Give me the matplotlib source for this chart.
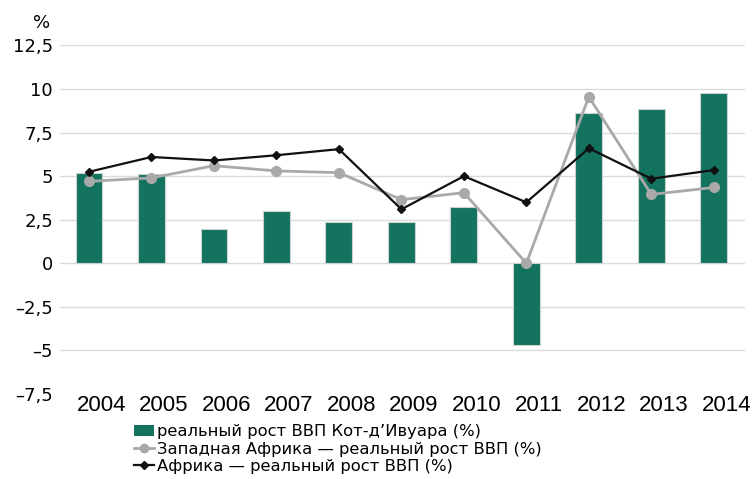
import numpy as np
import matplotlib.pyplot as plt
import matplotlib.transforms as mtransforms
from matplotlib.patches import Patch
from matplotlib.lines import Line2D

plt.rcParams['font.family'] = ['Liberation Sans', 'DejaVu Sans']

years = ['2004', '2005', '2006', '2007', '2008', '2009', '2010', '2011', '2012', '2013', '2014']
civ_growth = [5.2, 5.1, 1.95, 3.0, 2.35, 2.35, 3.25, -4.7, 8.6, 8.85, 9.75]
west_africa = [4.7, 4.9, 5.6, 5.3, 5.2, 3.65, 4.05, 0.0, 9.55, 3.95, 4.35]
africa = [5.25, 6.1, 5.9, 6.2, 6.55, 3.1, 5.0, 3.5, 6.6, 4.85, 5.35]
yticks = [-7.5, -5, -2.5, 0, 2.5, 5, 7.5, 10, 12.5]
ytick_labels = ['–7,5', '–5', '–2,5', '0', '2,5', '5', '7,5', '10', '12,5']
legend_labels = ['реальный рост ВВП Кот-д\u2019Ивуара (%)',
                 'Западная Африка — реальный рост ВВП (%)',
                 'Африка — реальный рост ВВП (%)']

green = '#13735f'
gray = '#a9a9a9'

fig = plt.figure(figsize=(7.55, 4.79), dpi=100)
ax = fig.add_axes([0.0795, 0.1775, 0.9073, 0.7276])

x = np.arange(len(years))

# gridlines (none at the bottom level)
for yv in yticks[1:]:
    ax.axhline(yv, color='#d8dddb', linewidth=1.0, zorder=0)

ax.bar(x, civ_growth, width=0.43, color=green, edgecolor='#c9d3cf', linewidth=0.8, zorder=2)
ax.plot(x, west_africa, color=gray, linewidth=2.0, marker='o', markersize=7, zorder=3)
ax.plot(x, africa, color='#111111', linewidth=1.6, marker='D', markersize=4.5, zorder=4)

ax.set_xlim(-0.464, 10.5)
ax.set_ylim(-7.5, 12.5)
ax.set_xticks(x)
ax.set_xticklabels(years, fontsize=16)
ax.set_yticks(yticks)
ax.set_yticklabels(ytick_labels, fontsize=13, family='DejaVu Sans')
ax.tick_params(axis='both', length=0)
ax.tick_params(axis='x', pad=1)
ax.tick_params(axis='y', pad=5)
for sp in ax.spines.values():
    sp.set_visible(False)

# year labels sit a little to the right of the bars
shift = mtransforms.ScaledTranslation(9 / 72, 0, fig.dpi_scale_trans)
for lbl in ax.get_xticklabels():
    lbl.set_transform(lbl.get_transform() + shift)

ax.text(-0.0146, 1.065, '%', transform=ax.transAxes, ha='right', va='center',
        fontsize=13, family='DejaVu Sans')

handles = [Patch(facecolor=green, edgecolor='none'),
           Line2D([0], [0], color=gray, linewidth=2, marker='o', markersize=6),
           Line2D([0], [0], color='#111111', linewidth=1.6, marker='D', markersize=4.5)]
fig.legend(handles, legend_labels, loc='upper left', bbox_to_anchor=(0.178, 0.114),
           frameon=False, prop={'family': 'DejaVu Sans', 'size': 11.8},
           handlelength=1.2, handletextpad=0.2,
           labelspacing=0.14, borderpad=0, borderaxespad=0)

fig.savefig('out.png', dpi=100)
